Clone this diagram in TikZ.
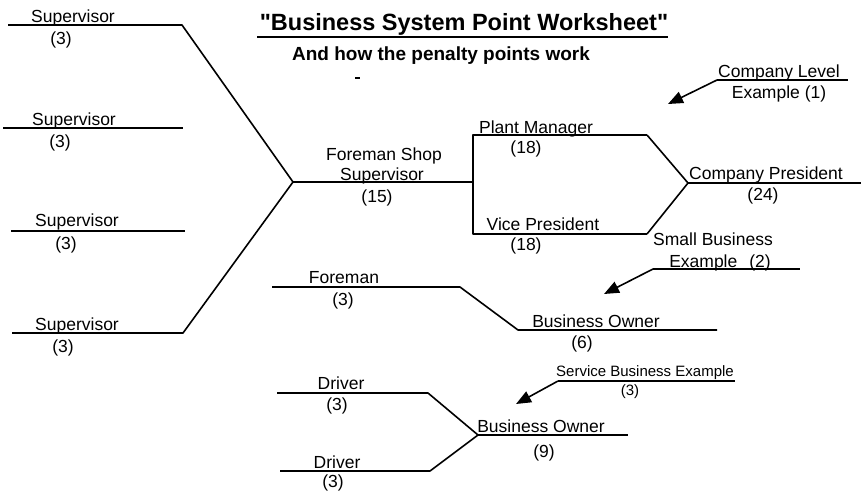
\documentclass[tikz,border=0pt]{standalone}
\usepackage{fontspec}
\setmainfont{Liberation Sans}
\newfontfamily\titlefont[Ligatures=TeXOff]{Liberation Sans}
\usetikzlibrary{arrows.meta}
\begin{document}
\begin{tikzpicture}[x=1pt,y=-1pt,
  wire/.style={line width=1.6pt, line join=round},
  role/.style={font=\fontsize{17.5}{18}\selectfont, inner sep=0pt, anchor=base},
  small/.style={font=\fontsize{15}{16}\selectfont, inner sep=0pt, anchor=base},
  pointer/.style={line width=1.6pt, -{Triangle[length=15pt,width=12pt]}},
]
\useasboundingbox (0,0) rectangle (861,491);

% ---------- heading ----------
\node[anchor=base, inner sep=0pt, font=\titlefont\bfseries\fontsize{23.5}{24}\selectfont] (title) at (464,30) {"Business System Point Worksheet"};
\coordinate (tuL) at (257,37);
\coordinate (tuR) at (668,37);
\draw[line width=1.6pt] (tuL) -- (tuR);
\node[anchor=base, inner sep=0pt, font=\bfseries\fontsize{19}{20}\selectfont] (subtitle) at (441,60) {And how the penalty points work};
\coordinate (dashL) at (355,78);
\coordinate (dashR) at (360,78);
\draw[line width=1.5pt] (dashL) -- (dashR);

% ---------- company level example ----------
\coordinate (s1L) at (8,25);   \coordinate (s1R) at (182,25);
\coordinate (s2L) at (3,128);  \coordinate (s2R) at (183,128);
\coordinate (s3L) at (11,231); \coordinate (s3R) at (185,231);
\coordinate (s4L) at (12,333); \coordinate (s4R) at (183,333);
\coordinate (fsJ) at (293,182); \coordinate (fsR) at (473,182);
\coordinate (pmL) at (473,135); \coordinate (pmR) at (647,135);
\coordinate (vpL) at (473,234); \coordinate (vpR) at (647,234);
\coordinate (cpJ) at (688,183); \coordinate (cpR) at (861,183);

\draw[wire] (s1L) -- (s1R) -- (fsJ) -- (s4R) -- (s4L);
\draw[wire] (s2L) -- (s2R);
\draw[wire] (s3L) -- (s3R);
\draw[wire] (fsJ) -- (fsR);
\draw[wire] (pmR) -- (pmL) -- (vpL) -- (vpR);
\draw[wire] (pmR) -- (cpJ) -- (vpR);
\draw[wire] (cpJ) -- (cpR);

\node[role] (sup1) at (73,22) {Supervisor};   \node[role] (sup1p) at (61,44) {(3)};
\node[role] (sup2) at (74,125) {Supervisor};  \node[role] (sup2p) at (60,147) {(3)};
\node[role] (sup3) at (77,226) {Supervisor};  \node[role] (sup3p) at (66,249) {(3)};
\node[role] (sup4) at (77,330) {Supervisor};  \node[role] (sup4p) at (63,352) {(3)};

\node[role] (fs1) at (384,160) {Foreman Shop};
\node[role] (fs2) at (382,180) {Supervisor};
\node[role] (fsp) at (377,202) {(15)};

\node[role] (pm) at (536,133) {Plant Manager};
\node[role] (pmp) at (526,153) {(18)};
\node[role] (vp) at (543,230) {Vice President};
\node[role] (vpp) at (526,250) {(18)};

\node[role] (cp) at (766,179) {Company President};
\node[role] (cpp) at (763,200) {(24)};

\node[role] (cl1) at (779,77) {Company Level};
\node[role] (cl2) at (779,98) {Example (1)};
\coordinate (clL) at (717,80); \coordinate (clR) at (848,80);
\coordinate (clT) at (668,104);
\draw[wire] (clL) -- (clR);
\draw[pointer] (clL) -- (clT);

% ---------- small business example ----------
\coordinate (foL) at (272,287); \coordinate (foR) at (460,287);
\coordinate (boJ) at (518,330); \coordinate (boR) at (717,330);
\draw[wire] (foL) -- (foR) -- (boJ) -- (boR);

\node[role] (fo) at (344,283) {Foreman};
\node[role] (fop) at (343,305) {(3)};
\node[role] (bo6) at (596,327) {Business Owner};
\node[role] (bo6p) at (582,348) {(6)};

\node[role] (sb1) at (713,245) {Small Business};
\node[role] (sb2) at (720,267) {Example\hspace{12pt}(2)};
\coordinate (sbL) at (653,269); \coordinate (sbR) at (800,269);
\coordinate (sbT) at (604,294);
\draw[wire] (sbL) -- (sbR);
\draw[pointer] (sbL) -- (sbT);

% ---------- service business example ----------
\coordinate (d1L) at (277,393); \coordinate (d1R) at (428,393);
\coordinate (d2L) at (280,471); \coordinate (d2R) at (430,471);
\coordinate (b9J) at (478,435); \coordinate (b9R) at (628,435);
\draw[wire] (d1L) -- (d1R) -- (b9J) -- (d2R) -- (d2L);
\draw[wire] (b9J) -- (b9R);

\node[role] (dr1) at (341,389) {Driver};
\node[role] (dr1p) at (337,410) {(3)};
\node[role] (dr2) at (337,468) {Driver};
\node[role] (dr2p) at (333,487) {(3)};
\node[role] (bo9) at (541,432) {Business Owner};
\node[role] (bo9p) at (544,457) {(9)};

\node[small] (sv1) at (645,376) {Service Business Example};
\node[small] (sv2) at (630,395) {(3)};
\coordinate (svL) at (558,381); \coordinate (svR) at (735,381);
\coordinate (svT) at (516,404);
\draw[wire] (svL) -- (svR);
\draw[pointer] (svL) -- (svT);
\end{tikzpicture}
\end{document}
